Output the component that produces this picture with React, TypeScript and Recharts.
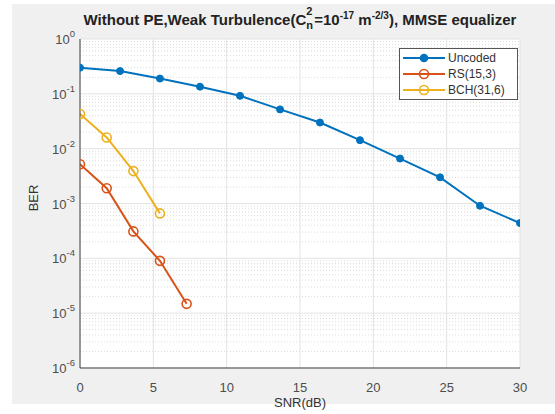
import React from 'react';
import { LineChart, Line, XAxis, YAxis, CartesianGrid, ReferenceLine } from 'recharts';

// SNR (dB) / BER readings
const snrUncoded = [0, 2.73, 5.45, 8.18, 10.91, 13.64, 16.36, 19.09, 21.82, 24.55, 27.27, 30];
const berUncoded = [0.3, 0.26, 0.19, 0.135, 0.092, 0.052, 0.03, 0.0143, 0.0066, 0.003, 0.00091, 0.00044];
const snrRS = [0, 1.82, 3.64, 5.45, 7.27];
const berRS = [0.0052, 0.0019, 0.00031, 0.00009, 0.0000148];
const snrBCH = [0, 1.82, 3.64, 5.45];
const berBCH = [0.043, 0.016, 0.0039, 0.00066];

const xTicks = [0, 5, 10, 15, 20, 25, 30];
const yTicks = [1e-6, 1e-5, 1e-4, 1e-3, 1e-2, 1e-1, 1];

const series = [
    { name: 'Uncoded', color: '#0072BD', snr: snrUncoded, ber: berUncoded, filled: true },
    { name: 'RS(15,3)', color: '#D95319', snr: snrRS, ber: berRS, filled: false },
    { name: 'BCH(31,6)', color: '#EDB120', snr: snrBCH, ber: berBCH, filled: false },
];

// minor log grid at 2..9 x 10^k
const minorY: number[] = [];
for (let k = -6; k < 0; k++) {
    for (let m = 2; m <= 9; m++) minorY.push(m * Math.pow(10, k));
}

const FONT = '"Liberation Sans", Arial, sans-serif';

const YTick = (props: any) => {
    const { x, y, payload } = props;
    const exp = Math.round(Math.log10(payload.value));
    return (
        <text x={x - 3} y={y + 5} textAnchor="end" fill="#4d4d4d" fontSize={13} fontFamily={FONT}>
            <tspan>10</tspan>
            <tspan dy={-7} fontSize={9.5}>{String(exp)}</tspan>
        </text>
    );
};

const Dot = (color: string, filled: boolean) => (props: any) => {
    const { cx, cy, index } = props;
    return (
        <circle
            key={index}
            cx={cx}
            cy={cy}
            r={filled ? 3.5 : 4.5}
            fill={filled ? color : 'none'}
            stroke={color}
            strokeWidth={filled ? 1 : 1.6}
        />
    );
};

export default function App() {
    return (
        <div style={{ position: 'absolute', left: 0, top: 0, width: 555, height: 414, background: '#fff', fontFamily: FONT }}>
            <div style={{ position: 'absolute', left: 12, top: 4, width: 543, height: 400, background: '#f0f0f0' }} />
            <div style={{ position: 'absolute', left: 0, top: 0 }}>
                <LineChart width={555} height={414} margin={{ top: 39, right: 35, bottom: 0, left: 20 }}>
                    <CartesianGrid fill="#fff" stroke="#e3e3e3" strokeWidth={1} />
                    {minorY.map((v) => (
                        <ReferenceLine key={v} y={v} stroke="#dcdcdc" strokeDasharray="1 2" ifOverflow="hidden" />
                    ))}
                    <XAxis
                        type="number"
                        dataKey="snr"
                        domain={[0, 30]}
                        ticks={xTicks}
                        allowDataOverflow
                        height={46}
                        tickLine={false}
                        tickMargin={9}
                        axisLine={{ stroke: '#404040' }}
                        tick={{ fill: '#4d4d4d', fontSize: 13, fontFamily: FONT }}
                        label={{ value: 'SNR(dB)', position: 'insideBottom', offset: 7, fill: '#333', fontSize: 13, fontFamily: FONT }}
                    />
                    <XAxis xAxisId="top" orientation="top" type="number" domain={[0, 30]} height={0} tick={false} tickLine={false} axisLine={{ stroke: '#404040' }} />
                    <YAxis
                        type="number"
                        dataKey="ber"
                        scale="log"
                        domain={[1e-6, 1]}
                        ticks={yTicks}
                        allowDataOverflow
                        width={60}
                        tickLine={false}
                        tickSize={0}
                        axisLine={{ stroke: '#404040' }}
                        tick={<YTick />}
                    />
                    <YAxis yAxisId="right" orientation="right" scale="log" domain={[1e-6, 1]} width={0} tick={false} tickLine={false} axisLine={{ stroke: '#404040' }} />
                    {series.map((s) => (
                        <Line
                            key={s.name}
                            name={s.name}
                            data={s.snr.map((x, i) => ({ snr: x, ber: s.ber[i] }))}
                            dataKey="ber"
                            stroke={s.color}
                            strokeWidth={2}
                            dot={Dot(s.color, s.filled)}
                            activeDot={false}
                            isAnimationActive={false}
                        />
                    ))}
                </LineChart>
            </div>
            {/* title */}
            <div style={{ position: 'absolute', left: 50, top: 10, width: 500, textAlign: 'center', fontSize: 15, lineHeight: '17px', fontWeight: 'bold', color: '#222', whiteSpace: 'nowrap' }}>
                Without PE,Weak Turbulence(C
                <span style={{ display: 'inline-block', position: 'relative', width: 8, height: 15 }}>
                    <span style={{ position: 'absolute', left: 0, top: -4, fontSize: 11, lineHeight: '11px' }}>2</span>
                    <span style={{ position: 'absolute', left: 0, top: 10, fontSize: 11, lineHeight: '11px' }}>n</span>
                </span>
                =10<span style={{ fontSize: 10, position: 'relative', top: -6 }}>-17</span> m<span style={{ fontSize: 10, position: 'relative', top: -6 }}>-2/3</span>), MMSE equalizer
            </div>
            {/* y label */}
            <div style={{ position: 'absolute', left: 33, top: 198, transform: 'translate(-50%, -50%) rotate(-90deg)', fontSize: 13, color: '#333' }}>
                BER
            </div>
            {/* legend */}
            <div style={{ position: 'absolute', left: 399, top: 48, width: 117, height: 49, background: '#fff', border: '1px solid #555', paddingTop: 1 }}>
                {series.map((s) => (
                    <div key={s.name} style={{ display: 'flex', alignItems: 'center', height: 16 }}>
                        <svg width={48} height={14}>
                            <line x1={3} x2={45} y1={7} y2={7} stroke={s.color} strokeWidth={2} />
                            <circle cx={24} cy={7} r={s.filled ? 3.5 : 4.5} fill={s.filled ? s.color : 'none'} stroke={s.color} strokeWidth={1.6} />
                        </svg>
                        <span style={{ fontSize: 12, color: '#333' }}>{s.name}</span>
                    </div>
                ))}
            </div>
        </div>
    );
}
